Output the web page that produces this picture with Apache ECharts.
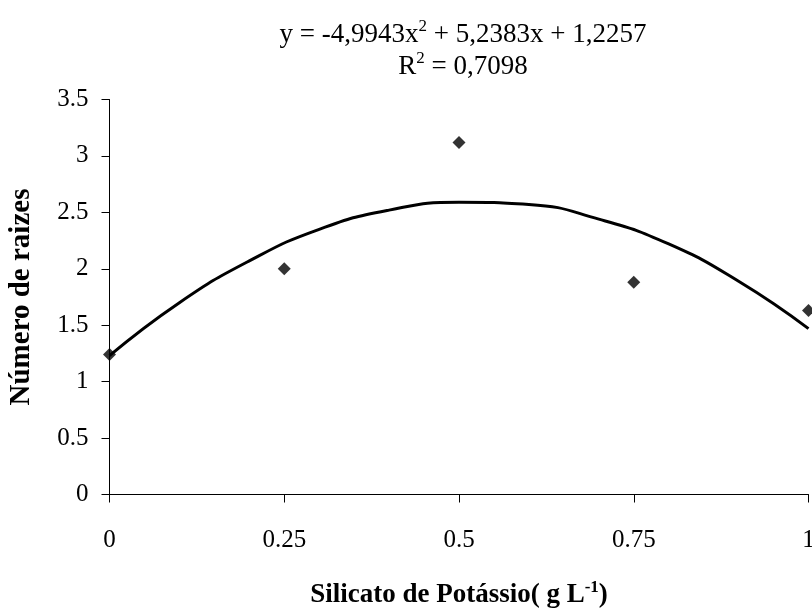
<!DOCTYPE html>
<html>
<head>
<meta charset="utf-8">
<script src="https://cdn.jsdelivr.net/npm/echarts@6/dist/echarts.min.js"></script>
<style>html,body{margin:0;padding:0;background:#fff}#c{width:812px;height:610px}</style>
</head>
<body>
<div id="c"></div>
<script>
var obsX = [0, 0.25, 0.5, 0.75, 1];
var obsY = [1.24, 2.0, 3.12, 1.88, 1.63];
var trendX = [0, 0.1, 0.2, 0.3, 0.4, 0.5, 0.6, 0.7, 0.8, 0.9, 1.0];
var trendY = [1.23, 1.70, 2.07, 2.35, 2.52, 2.59, 2.57, 2.44, 2.22, 1.89, 1.47];
var xTicks = ['0', '0.25', '0.5', '0.75', '1'];
var yTicks = ['0', '0.5', '1', '1.5', '2', '2.5', '3', '3.5'];

var font = '"Liberation Serif", "Times New Roman", serif';
var chart = echarts.init(document.getElementById('c'));
chart.setOption({
  animation: false,
  backgroundColor: '#fff',
  title: {
    left: 458, top: 14, textAlign: 'center',
    text: '{t|y = -4,9943x}{s|2}{t| + 5,2383x + 1,2257}\n{t|R}{s|2}{t| = 0,7098}',
    textStyle: {
      fontFamily: font, color: '#000', fontWeight: 'normal',
      rich: {
        t: { fontFamily: font, fontSize: 27, fontWeight: 'normal', color: '#000', lineHeight: 32 },
        s: { fontFamily: font, fontSize: 17, fontWeight: 'normal', color: '#000', lineHeight: 32, padding: [0, 0, 16, 0] }
      }
    }
  },
  grid: { left: 109.5, right: 3.5, top: 99.5, bottom: 115.5, outerBoundsMode: 'none', containLabel: false },
  xAxis: {
    type: 'value', min: 0, max: 1, interval: 0.25,
    name: '{b|Silicato de Potássio( g L}{s|-1}{b|)}',
    nameLocation: 'middle', nameGap: 86,
    nameTextStyle: {
      rich: {
        b: { fontFamily: font, fontSize: 27, fontWeight: 'bold', color: '#000', lineHeight: 30 },
        s: { fontFamily: font, fontSize: 17, fontWeight: 'bold', color: '#000', lineHeight: 30, padding: [0, 0, 16, 0] }
      }
    },
    axisLine: { lineStyle: { color: '#000', width: 1 } },
    axisTick: { show: true, length: 8, lineStyle: { color: '#000' } },
    axisLabel: {
      margin: 33, fontFamily: font, fontSize: 25, color: '#000',
      formatter: function (v) { return xTicks[Math.round(v / 0.25)]; }
    },
    splitLine: { show: false }
  },
  yAxis: {
    type: 'value', min: 0, max: 3.5, interval: 0.5,
    name: 'Número de raizes', nameLocation: 'middle', nameGap: 73,
    nameTextStyle: { fontFamily: font, fontSize: 29, fontWeight: 'bold', color: '#000' },
    axisLine: { show: true, lineStyle: { color: '#000', width: 1 } },
    axisTick: { show: true, length: 8, lineStyle: { color: '#000' } },
    axisLabel: {
      margin: 21, fontFamily: font, fontSize: 25, color: '#000',
      formatter: function (v) { return yTicks[Math.round(v / 0.5)]; }
    },
    splitLine: { show: false }
  },
  series: [
    {
      type: 'line', smooth: true, showSymbol: false, symbol: 'none',
      data: trendX.map(function (x, i) { return [x, trendY[i]]; }),
      lineStyle: { color: '#000', width: 3 }, z: 2
    },
    {
      type: 'scatter', symbol: 'diamond', symbolSize: 13,
      data: obsX.map(function (x, i) { return [x, obsY[i]]; }),
      itemStyle: { color: '#000' }, z: 3
    }
  ]
});
</script>
</body>
</html>
